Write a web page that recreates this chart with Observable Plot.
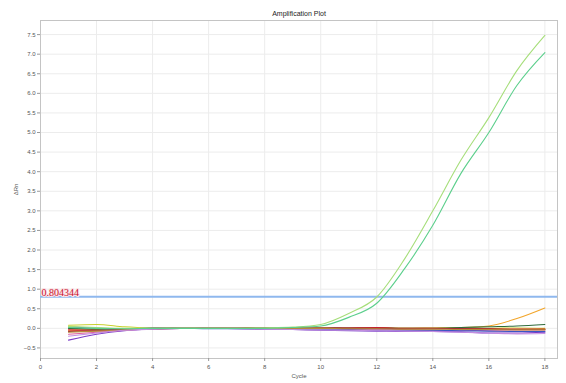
<!DOCTYPE html>
<html>
<head>
<meta charset="utf-8">
<script src="https://cdn.jsdelivr.net/npm/d3@7"></script>
<script src="https://cdn.jsdelivr.net/npm/@observablehq/plot@0.6"></script>
<style>
  html, body { margin: 0; padding: 0; background: #fff; }
  #chart svg { display: block; }
</style>
</head>
<body>
<div id="chart"></div>
<script>
const title = "Amplification Plot";
const xLabel = "Cycle";
const yLabel = "ΔRn";
const thresholdValue = 0.804344;
const thresholdLabel = "0.804344";

const cycles = [1,2,3,4,5,6,7,8,9,10,11,12,13,14,15,16,17,18];
const xTicks = [0,2,4,6,8,10,12,14,16,18];
const yTicks = [-0.5,0,0.5,1,1.5,2,2.5,3,3.5,4,4.5,5,5.5,6,6.5,7,7.5];

const seriesNames = ["A1","A2","B1","B2","C1","C2","D1","D2","E1","E2","F1","F2"];
const seriesColors = ["#a6de7a","#5ccf8c","#f2a62c","#c9d12c","#7a3cc8","#2f6a3a","#d21f2a","#e0609e","#3a56c4","#9a2a3a","#b58a3a","#c38ee0"];
const seriesValues = [
  [0.05,0.02,0.00,0.00,0.01,0.00,0.00,0.01,0.03,0.10,0.38,0.80,1.78,3.00,4.29,5.38,6.58,7.48],
  [0.02,0.00,-0.01,0.00,0.00,0.00,0.00,0.00,0.02,0.06,0.28,0.64,1.53,2.63,3.95,5.00,6.20,7.04],
  [-0.05,-0.03,-0.02,0.00,0.01,0.00,0.00,0.00,-0.01,0.00,0.00,0.01,0.00,0.01,0.02,0.06,0.25,0.52],
  [0.08,0.10,0.04,0.01,0.00,0.01,0.00,0.00,0.00,0.01,0.00,0.00,0.00,0.00,0.00,0.00,0.01,0.00],
  [-0.30,-0.15,-0.06,-0.02,0.00,0.00,-0.01,-0.02,-0.03,-0.05,-0.06,-0.07,-0.08,-0.08,-0.09,-0.12,-0.12,-0.10],
  [0.00,-0.02,-0.01,0.00,0.01,0.01,0.00,0.00,0.00,0.00,0.01,0.01,0.00,0.00,0.02,0.04,0.06,0.10],
  [-0.04,-0.05,-0.03,0.00,0.01,0.00,0.01,0.00,0.00,0.00,0.01,0.02,0.00,0.00,-0.01,-0.01,-0.02,-0.02],
  [-0.15,-0.10,-0.05,-0.01,0.00,0.00,0.00,-0.01,-0.01,-0.02,-0.03,-0.04,-0.04,-0.05,-0.05,-0.06,-0.07,-0.07],
  [0.04,0.00,-0.01,0.00,0.00,-0.01,-0.01,-0.01,-0.02,-0.03,-0.04,-0.05,-0.05,-0.05,-0.06,-0.07,-0.08,-0.08],
  [-0.08,-0.06,-0.03,-0.01,0.00,0.00,0.00,0.00,0.01,0.01,0.00,0.00,-0.01,-0.01,-0.01,-0.02,-0.03,-0.03],
  [-0.10,-0.07,-0.04,-0.01,0.00,0.01,0.01,0.00,0.00,0.00,-0.01,-0.01,-0.02,-0.02,-0.03,-0.03,-0.04,-0.04],
  [-0.20,-0.12,-0.05,-0.02,0.00,0.00,0.00,-0.02,-0.03,-0.04,-0.05,-0.06,-0.07,-0.08,-0.10,-0.12,-0.14,-0.13]
];

const rows = [];
seriesNames.forEach((name, i) => {
  cycles.forEach((c, j) => rows.push({series: name, cycle: c, value: seriesValues[i][j]}));
});
const drawOrder = [...seriesNames.slice(2), ...seriesNames.slice(0, 2)];

const chart = Plot.plot({
  width: 566,
  height: 383,
  marginLeft: 40,
  marginRight: 9,
  marginTop: 20,
  marginBottom: 25,
  style: {fontFamily: "'Liberation Sans', Arial, sans-serif", fontSize: "6px", color: "#555", background: "#fff"},
  x: {domain: [0, 18.45]},
  y: {domain: [-0.77, 7.86]},
  color: {domain: seriesNames, range: seriesColors},
  marks: [
    Plot.gridX(xTicks, {stroke: "#ececec", strokeOpacity: 1}),
    Plot.gridY(yTicks, {stroke: "#ececec", strokeOpacity: 1}),
    Plot.frame({stroke: "#c4c4c4"}),
    Plot.axisX({ticks: xTicks, tickSize: 3, tickPadding: 3, label: xLabel, labelAnchor: "center", labelArrow: "none", labelOffset: 19, fontSize: 6, stroke: "#999"}),
    Plot.axisY({ticks: yTicks, tickSize: 3, tickPadding: 2, tickFormat: d3.format(".1f"), label: yLabel, labelAnchor: "center", labelArrow: "none", labelOffset: 27, fontSize: 6, stroke: "#999"}),
    Plot.ruleY([thresholdValue], {stroke: "#8fb8ee", strokeWidth: 2}),
    Plot.line(rows, {x: "cycle", y: "value", z: "series", stroke: "series", strokeWidth: 1.1, curve: "monotone-x",
      sort: (a, b) => drawOrder.indexOf(a.series) - drawOrder.indexOf(b.series)}),
    Plot.text([thresholdLabel], {frameAnchor: "left", x: 0, y: thresholdValue, dx: 1, dy: -4, textAnchor: "start",
      fill: "#c8102e", fontFamily: "'Liberation Serif', 'Times New Roman', serif", fontSize: 10,
      stroke: "#fbe3e6", strokeWidth: 2, paintOrder: "stroke"}),
    Plot.text([title], {frameAnchor: "top", dy: -9, fontSize: 7, fill: "#222"})
  ]
});
document.getElementById("chart").appendChild(chart);
</script>
</body>
</html>
